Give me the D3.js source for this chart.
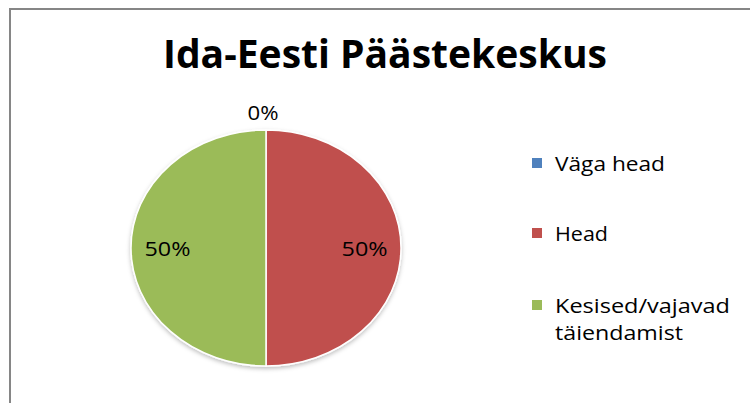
<!DOCTYPE html>
<html>
<head>
<meta charset="utf-8">
<script src="https://cdn.jsdelivr.net/npm/d3@7"></script>
<style>
body { margin: 0; background: #fff; }
text { font-family: "Open Sans", "DejaVu Sans", sans-serif; fill: #000; }
</style>
</head>
<body>
<div id="chart"></div>
<script>
// data
let categories = ["Väga head", "Head", "Kesised/vajavad täiendamist"];
let values = [0, 50, 50];
let colors = ["#4F81BD", "#C0504D", "#9BBB59"];
let legendLines = [["Väga head"], ["Head"], ["Kesised/vajavad", "täiendamist"]];

let width = 750, height = 403;
let svg = d3.select("#chart").append("svg")
.attr("width", width).attr("height", height);

// frame
svg.append("rect")
.attr("x", 10).attr("y", 9).attr("width", 760).attr("height", 420)
.attr("fill", "none").attr("stroke", "#868686").attr("stroke-width", 2);

// title
svg.append("text")
.attr("x", 385).attr("y", 68)
.attr("text-anchor", "middle")
.style("font-size", "39px").style("font-weight", "bold")
.attr("textLength", 444).attr("lengthAdjust", "spacingAndGlyphs")
.text("Ida-Eesti Päästekeskus");

// shadow
let defs = svg.append("defs");
defs.append("filter").attr("id", "shadow")
.attr("x", "-10%").attr("y", "-10%").attr("width", "120%").attr("height", "130%")
.append("feDropShadow")
.attr("dx", 0).attr("dy", 2).attr("stdDeviation", 2)
.attr("flood-color", "#000").attr("flood-opacity", 0.25);

// pie
let cx = 266, cy = 248, r = 118, sx = 135/118;
let total = d3.sum(values);
let pieData = d3.pie().sort(null).value(d => d)(values);
let arc = d3.arc().innerRadius(0).outerRadius(r);
let labelArc = d3.arc().innerRadius(r*0.73).outerRadius(r*0.73);

let g = svg.append("g").attr("transform", "translate("+cx+","+cy+")");
let pieG = g.append("g").attr("transform", "scale("+sx+",1)").attr("filter", "url(#shadow)");
pieG.selectAll("path").data(pieData).enter().append("path")
.attr("d", arc)
.attr("fill", (d,i) => colors[i])
.attr("stroke", "#fff").attr("stroke-width", 1.5)
.attr("vector-effect", "non-scaling-stroke");

// labels
g.selectAll("text.lbl").data(pieData).enter().append("text")
.attr("class", "lbl")
.attr("x", d => {
  if (d.value === 0) return -3;
  return labelArc.centroid(d)[0]*sx;
})
.attr("y", d => {
  if (d.value === 0) return -r - 18;
  return labelArc.centroid(d)[1];
})
.attr("text-anchor", "middle")
.attr("dominant-baseline", "central")
.style("font-size", "20px")
.attr("textLength", d => d.value === 0 ? 31 : 46)
.attr("lengthAdjust", "spacingAndGlyphs")
.text(d => Math.round(d.value/total*100) + "%");

// legend
let legend = svg.append("g").attr("transform", "translate(532,0)");
let legendY = [163, 233, 305];
let lineWidths = [[110], [53], [175, 128]];
legendLines.forEach((lines, i) => {
  legend.append("rect")
  .attr("x", 0).attr("y", legendY[i]-5).attr("width", 10).attr("height", 10)
  .attr("fill", colors[i]);
  lines.forEach((l, j) => {
    legend.append("text")
    .attr("x", 23).attr("y", legendY[i] + j*27)
    .attr("dominant-baseline", "central")
    .style("font-size", "20px")
    .attr("textLength", lineWidths[i][j]).attr("lengthAdjust", "spacingAndGlyphs")
    .text(l);
  });
});
</script>
</body>
</html>
